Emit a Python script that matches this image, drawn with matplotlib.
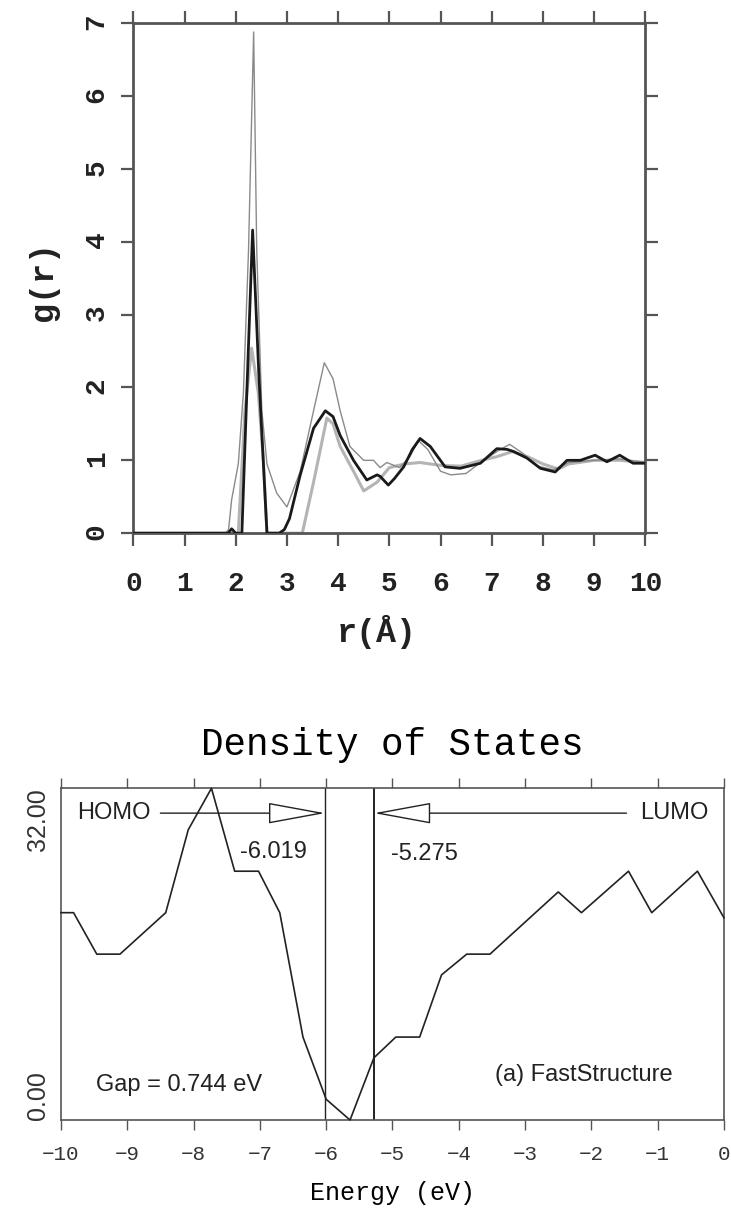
import numpy as np
import matplotlib
matplotlib.use('Agg')
import matplotlib.pyplot as plt

plt.rcParams['font.family'] = ['Liberation Mono', 'DejaVu Sans']

# g(r) curves
r_black = [0.0, 1.85, 1.92, 2.0, 2.12, 2.22, 2.33, 2.45, 2.61, 2.85, 2.95, 3.05, 3.26, 3.52, 3.75,
           3.9, 4.04, 4.3, 4.56, 4.76, 4.82, 4.98, 5.1, 5.28, 5.45, 5.6, 5.8, 6.09, 6.38,
           6.78, 7.1, 7.3, 7.43, 7.69, 7.95, 8.24, 8.47, 8.73, 9.02, 9.25, 9.5, 9.76, 10.0]
g_black = [0.0, 0.0, 0.06, 0.0, 0.0, 2.0, 4.16, 2.2, 0.0, 0.0, 0.05, 0.2, 0.8, 1.44, 1.68,
           1.6, 1.34, 1.0, 0.73, 0.8, 0.78, 0.66, 0.75, 0.91, 1.15, 1.30, 1.19, 0.91, 0.89,
           0.96, 1.16, 1.15, 1.12, 1.03, 0.89, 0.84, 1.0, 1.0, 1.07, 0.98, 1.07, 0.96, 0.96]

r_sharp = [0.0, 1.8, 1.86, 1.92, 2.05, 2.15, 2.25, 2.35, 2.41, 2.51, 2.61, 2.8, 3.0, 3.26,
           3.52, 3.73, 3.9, 4.04, 4.23, 4.5, 4.69, 4.82, 4.95, 5.2, 5.4, 5.57, 5.75, 6.0,
           6.2, 6.5, 6.8, 7.1, 7.35, 7.6, 7.9, 8.2, 8.5, 9.0, 9.5, 10.0]
g_sharp = [0.0, 0.0, 0.05, 0.46, 0.95, 1.93, 3.89, 6.88, 3.89, 1.68, 0.95, 0.55, 0.36, 0.85,
           1.68, 2.34, 2.12, 1.68, 1.19, 1.0, 1.0, 0.9, 0.97, 0.9, 1.05, 1.27, 1.15, 0.85,
           0.80, 0.82, 0.98, 1.12, 1.22, 1.1, 0.92, 0.87, 0.97, 1.0, 1.02, 0.97]

r_broad = [0.0, 2.05, 2.18, 2.31, 2.44, 2.54, 2.61, 3.3, 3.52, 3.78, 3.9, 4.04, 4.3, 4.5,
           4.76, 5.0, 5.3, 5.6, 6.0, 6.4, 6.8, 7.1, 7.4, 7.7, 8.0, 8.3, 8.5, 9.0, 9.5, 10.0]
g_broad = [0.0, 0.0, 1.68, 2.54, 1.93, 1.0, 0.0, 0.0, 0.7, 1.58, 1.5, 1.19, 0.85, 0.58,
           0.7, 0.9, 0.95, 0.97, 0.93, 0.92, 1.0, 1.05, 1.12, 1.05, 0.95, 0.88, 0.95, 1.0, 1.0, 0.97]

# density of states
energy = [-10.0, -9.81, -9.46, -9.11, -8.42, -8.08, -7.73, -7.38, -7.02, -6.70, -6.35, -6.00,
          -5.64, -5.28, -4.95, -4.59, -4.26, -3.88, -3.53, -2.50, -2.15, -1.44, -1.09, -0.40, 0.0]
dos = [20, 20, 16, 16, 20, 28, 32, 24, 24, 20, 8, 2,
       0, 6, 8, 8, 14, 16, 16, 22, 20, 24, 20, 24, 19.5]
homo = -6.019
lumo = -5.275

fig = plt.figure(figsize=(7.31, 12.09), dpi=100)

# ---- top: g(r) ----
ax1 = fig.add_axes([0.1824, 0.559, 0.7004, 0.4218])
ax1.plot(r_broad, g_broad, color='#b4b4b4', lw=2.2, zorder=2)
ax1.plot(r_sharp, g_sharp, color='#8a8a8a', lw=1.0, zorder=3)
ax1.plot(r_black, g_black, color='#1a1a1a', lw=2.0, zorder=4)
ax1.set_xlim(0, 10)
ax1.set_ylim(0, 7)
ax1.set_xticks(np.arange(0, 11))
ax1.set_yticks(np.arange(0, 8))
for sp in ax1.spines.values():
    sp.set_linewidth(2.0)
    sp.set_color('#555555')
ax1.tick_params(direction='out', length=9, width=1.6, color='#555555',
                top=True, right=True, labelsize=20)
ax1.tick_params(axis='x', pad=18)
ax1.tick_params(axis='y', labelrotation=90, pad=8)
for lbl in ax1.get_xticklabels() + ax1.get_yticklabels():
    lbl.set_fontweight('bold')
    lbl.set_color('#222222')
ax1.set_xlabel('r(Å)', fontsize=24, fontweight='bold', color='#222222')
ax1.xaxis.set_label_coords(0.475, -0.16)
ax1.set_ylabel('g(r)', fontsize=24, fontweight='bold', color='#222222')
ax1.yaxis.set_label_coords(-0.145, 0.494)

# ---- bottom: DOS ----
ax2 = fig.add_axes([0.0834, 0.0736, 0.907, 0.2744])
ax2.plot(energy, dos, color='#222222', lw=1.2, clip_on=False, zorder=3)
ax2.axvline(homo, color='#222222', lw=1.0)
ax2.axvline(lumo, color='#111111', lw=1.3)
ax2.set_xlim(-10, 0)
ax2.set_ylim(0, 32)
ax2.set_xticks(np.arange(-10, 1))
ax2.set_yticks([0, 32])
ax2.set_yticklabels(['0.00', '32.00'], family='Liberation Sans', fontsize=18,
                    rotation=90, color='#333333')
ylbl = ax2.get_yticklabels()
ylbl[0].set_va('bottom')
ylbl[1].set_va('top')
for sp in ax2.spines.values():
    sp.set_linewidth(1.2)
    sp.set_color('#555555')
ax2.tick_params(axis='x', direction='out', length=7, width=1.0, color='#555555',
                top=True, labelsize=15, labelcolor='#333333', pad=11)
ax2.tick_params(axis='y', length=0, pad=8)
ax2.set_xlabel('Energy (eV)', fontsize=18, labelpad=12)
ax2.set_title('Density of States', fontsize=27, pad=24)

y_arrow = 29.6
ax2.text(-9.76, y_arrow, 'HOMO', family='Liberation Sans', fontsize=17,
         ha='left', va='center', color='#222222')
ax2.annotate('', xy=(homo, y_arrow), xytext=(-8.5, y_arrow),
             arrowprops=dict(arrowstyle='-|>,head_length=3.7,head_width=0.68',
                             fc='white', ec='#222222', lw=1.0,
                             shrinkA=0, shrinkB=0, mutation_scale=10))
ax2.text(-1.27, y_arrow, 'LUMO', family='Liberation Sans', fontsize=17,
         ha='left', va='center', color='#222222')
ax2.annotate('', xy=(lumo, y_arrow), xytext=(-1.47, y_arrow),
             arrowprops=dict(arrowstyle='-|>,head_length=3.7,head_width=0.68',
                             fc='white', ec='#222222', lw=1.0,
                             shrinkA=0, shrinkB=0, mutation_scale=10))
ax2.text(homo - 0.27, 25.9, '%.3f' % homo, family='Liberation Sans', fontsize=17,
         ha='right', va='center', color='#222222')
ax2.text(lumo + 0.26, 25.7, '%.3f' % lumo, family='Liberation Sans', fontsize=17,
         ha='left', va='center', color='#222222')
ax2.text(-9.47, 3.4, 'Gap = %.3f eV' % (lumo - homo), family='Liberation Sans',
         fontsize=17, ha='left', va='center', color='#222222')
ax2.text(-3.45, 4.35, '(a) FastStructure', family='Liberation Sans', fontsize=17,
         ha='left', va='center', color='#222222')

fig.savefig('out.png', dpi=100)
